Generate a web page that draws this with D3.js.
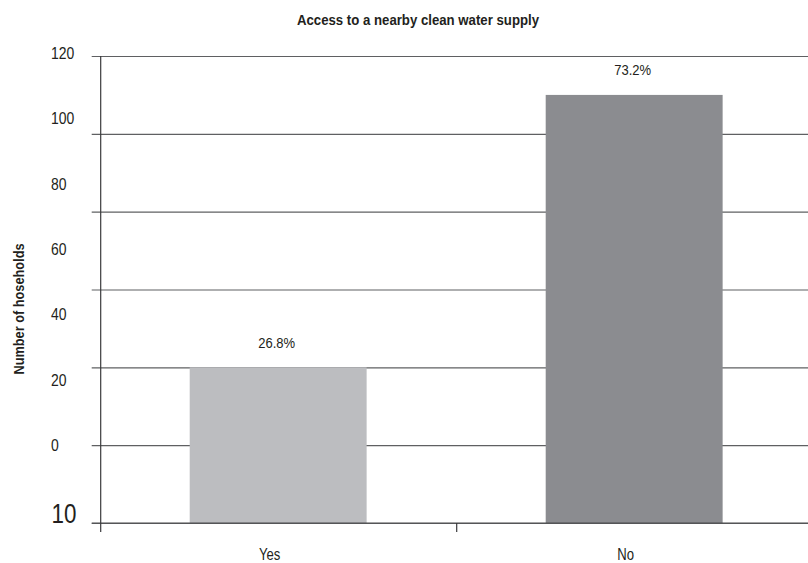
<!DOCTYPE html>
<html>
<head>
<meta charset="utf-8">
<script src="https://cdn.jsdelivr.net/npm/d3@7"></script>
<style>
  html, body { margin: 0; padding: 0; background: #fff; }
  svg { display: block; }
</style>
</head>
<body>
<svg id="chart" width="808" height="563"></svg>
<script>
// ---- data ----
const title = "Access to a nearby clean water supply";
const yTitle = "Number of hoseholds";
const categories = ["Yes", "No"];
const households = [40, 110];
const percentLabels = ["26.8%", "73.2%"];
const yTicks = [0, 20, 40, 60, 80, 100, 120];
const yTickLabels = ["0", "20", "40", "60", "80", "100", "120"];
const extraBottomLabel = "10";

// ---- layout ----
const W = 808, H = 563;
const axisX = 100.7, plotTop = 56, plotBottom = 523;
const svg = d3.select("#chart");
const font = "'Liberation Sans', Arial, Helvetica, sans-serif";
const ink = "#231f20";

// condense text horizontally (narrow Helvetica look)
function condense(sel, k) {
  sel.each(function () {
    const len = this.getComputedTextLength();
    d3.select(this).attr("textLength", len * k).attr("lengthAdjust", "spacingAndGlyphs");
  });
}

const y = d3.scaleLinear().domain([0, 120]).range([plotBottom, plotTop]);
const yLabel = d3.scaleLinear().domain([0, 120]).range([445, 53]);
const x = d3.scaleBand().domain(categories).range([axisX, axisX + 712]).paddingInner(0).paddingOuter(0);
const bw = x.bandwidth();

// gridlines
const grid = svg.append("g").attr("transform", `translate(91.7,0)`)
  .call(d3.axisRight(y).tickValues(yTicks).tickSize(W - 91.7 + 5).tickFormat(""));
grid.select(".domain").remove();
grid.selectAll(".tick line").attr("stroke", "#5f6062").attr("stroke-width", 1.2);

// bars
const data = categories.map((c, i) => ({ c, v: households[i], p: percentLabels[i] }));
const barColors = ["#bcbdc0", "#8b8c90"];
svg.append("g").selectAll("rect").data(data).join("rect")
  .attr("x", d => x(d.c) + bw * 0.25)
  .attr("width", bw * 0.497)
  .attr("y", d => y(d.v))
  .attr("height", d => y(0) - y(d.v))
  .attr("fill", (d, i) => barColors[i]);

// baseline on top
svg.append("line").attr("x1", 91.7).attr("x2", W).attr("y1", y(0)).attr("y2", y(0))
  .attr("stroke", "#4a4a4c").attr("stroke-width", 1.2);

// left axis line
svg.append("line").attr("x1", axisX).attr("x2", axisX).attr("y1", plotTop).attr("y2", plotBottom + 9)
  .attr("stroke", "#3a3a3c").attr("stroke-width", 1.2);

// category boundary ticks
svg.append("g").selectAll("line").data(categories.slice(1)).join("line")
  .attr("x1", d => x(d)).attr("x2", d => x(d))
  .attr("y1", plotBottom).attr("y2", plotBottom + 9)
  .attr("stroke", "#3a3a3c").attr("stroke-width", 1.2);

// y tick labels (left aligned)
const yl = svg.append("g").attr("transform", "translate(51,0)")
  .call(d3.axisLeft(yLabel).tickValues(yTicks).tickSize(0).tickPadding(0)
    .tickFormat((d, i) => yTickLabels[i]));
yl.select(".domain").remove();
yl.selectAll("text").attr("text-anchor", "start").attr("x", 0)
  .attr("font-family", font).attr("font-size", 17).attr("fill", ink)
  .call(condense, 0.82);

// extra bottom label
svg.append("text").attr("x", 51.5).attr("y", y(0) - 0.5)
  .attr("font-family", font).attr("font-size", 28).attr("fill", ink)
  .text(extraBottomLabel).call(condense, 0.8);

// percent labels
svg.append("g").selectAll("text").data(data).join("text")
  .attr("x", d => x(d.c) + bw / 2 - 2)
  .attr("y", d => y(d.v) - 19.5)
  .attr("text-anchor", "middle")
  .attr("font-family", font).attr("font-size", 14).attr("fill", ink)
  .text(d => d.p).call(condense, 0.93);

// category labels
svg.append("g").selectAll("text").data(categories).join("text")
  .attr("x", d => x(d) + bw / 2 - 9)
  .attr("y", 560)
  .attr("text-anchor", "middle")
  .attr("font-family", font).attr("font-size", 16).attr("fill", ink)
  .text(d => d).call(condense, 0.82);

// title
svg.append("text").attr("x", 418).attr("y", 25).attr("text-anchor", "middle")
  .attr("font-family", font).attr("font-size", 15).attr("font-weight", "bold").attr("fill", ink)
  .text(title).call(condense, 0.88);

// y title
svg.append("text").attr("transform", "translate(24,309) rotate(-90)").attr("text-anchor", "middle")
  .attr("font-family", font).attr("font-size", 15).attr("font-weight", "bold").attr("fill", ink)
  .text(yTitle).call(condense, 0.85);
</script>
</body>
</html>
